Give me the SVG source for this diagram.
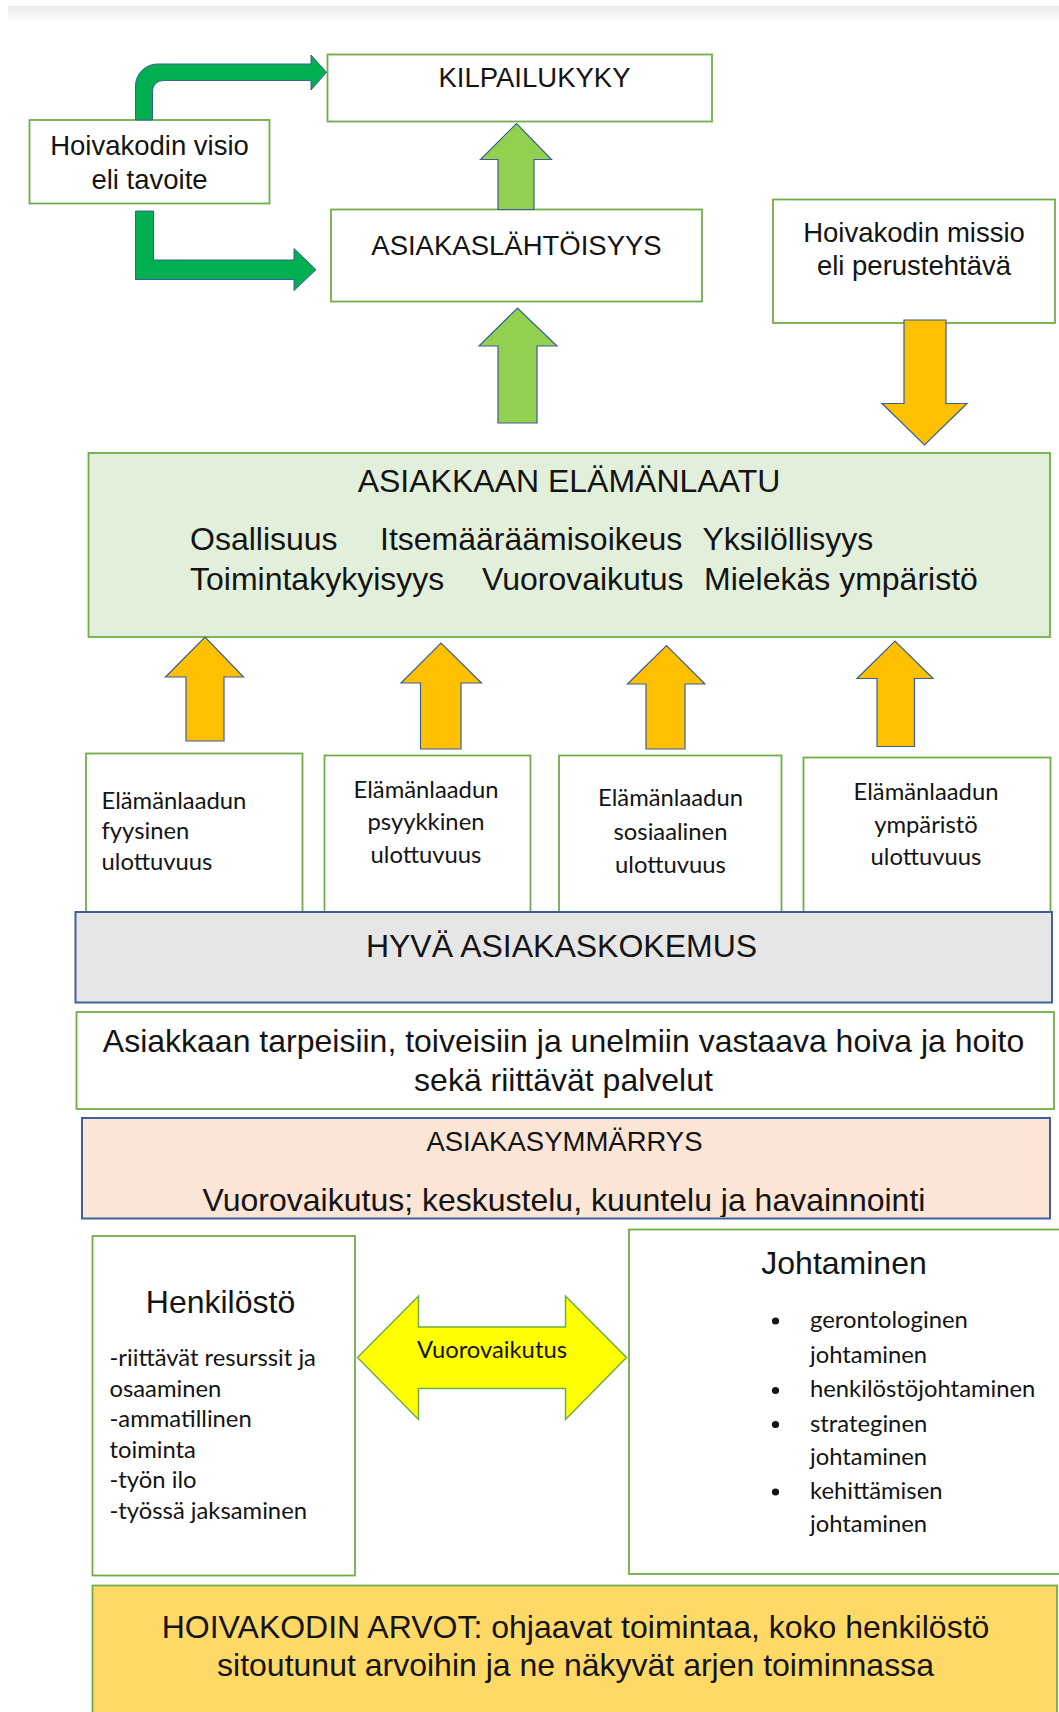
<svg xmlns="http://www.w3.org/2000/svg" width="1059" height="1712" viewBox="0 0 1059 1712">
<defs>
<linearGradient id="topband" x1="0" y1="0" x2="0" y2="1">
<stop offset="0" stop-color="#ebebeb"/>
<stop offset="1" stop-color="#fafafa"/>
</linearGradient>
<clipPath id="clipYm"><rect x="82" y="1118" width="968" height="99"/></clipPath>
<style>
.box{fill:#ffffff;stroke:#70ad47;stroke-width:1.8}
.boxg{fill:#e2efda;stroke:#70ad47;stroke-width:1.8}
.boxgray{fill:#e7e6e6;stroke:#3f5f9e;stroke-width:2}
.boxpeach{fill:#fbe5d6;stroke:#3f5f9e;stroke-width:2}
.boxgold{fill:#ffd966;stroke:#70ad47;stroke-width:1.8}
.ar{font-family:"Liberation Sans",Arial,sans-serif;fill:#141414}
.t32{font-size:32px}
.t27{font-size:27.5px}
.cal{font-family:Lato,"Carlito",sans-serif;font-size:23.8px;fill:#141414}
.mid{text-anchor:middle}
.dg{fill:#00b050;stroke:#3a5f95;stroke-width:1}
.lg{fill:#92d050;stroke:#3a5f95;stroke-width:1.2}
.or{fill:#ffc000;stroke:#3a5f95;stroke-width:1.2}
.yl{fill:#ffff00;stroke:#70ad47;stroke-width:1.5}
</style>
</defs>
<rect x="0" y="0" width="1059" height="1712" fill="#ffffff"/>
<rect x="8" y="6" width="1051" height="14" fill="url(#topband)"/>

<g id="kilpailukyky">
<rect class="box" x="327.5" y="54.5" width="384.5" height="67"/>
<text class="ar t27 mid" x="534.5" y="87">KILPAILUKYKY</text>
</g>
<g id="visio">
<rect class="box" x="29.5" y="120" width="240" height="83.5"/>
<text class="ar t27 mid" x="149.5" y="155">Hoivakodin visio</text>
<text class="ar t27 mid" x="149.5" y="189">eli tavoite</text>
</g>
<g id="asiakaslahtoisyys">
<rect class="box" x="331" y="209.5" width="371" height="92"/>
<text class="ar t27 mid" x="516.5" y="254.5">ASIAKASLÄHTÖISYYS</text>
</g>
<g id="missio">
<rect class="box" x="773" y="199.5" width="282" height="123.5"/>
<text class="ar t27 mid" x="914" y="242">Hoivakodin missio</text>
<text class="ar t27 mid" x="914" y="275">eli perustehtävä</text>
</g>
<g id="elamanlaatu">
<rect class="boxg" x="88.5" y="453" width="961.5" height="184"/>
<text class="ar t32 mid" x="569" y="492">ASIAKKAAN ELÄMÄNLAATU</text>
<text class="ar t32" x="190" y="549.5">Osallisuus</text>
<text class="ar t32" x="380" y="549.5">Itsemääräämisoikeus</text>
<text class="ar t32" x="702.5" y="549.5">Yksilöllisyys</text>
<text class="ar t32" x="190" y="590">Toimintakykyisyys</text>
<text class="ar t32" x="482" y="590">Vuorovaikutus</text>
<text class="ar t32" x="704" y="590">Mielekäs ympäristö</text>
</g>
<g id="fyysinen">
<rect class="box" x="86" y="753.5" width="216.5" height="160"/>
<text class="cal" x="101.5" y="808.5">Elämänlaadun</text>
<text class="cal" x="101.5" y="839">fyysinen</text>
<text class="cal" x="101.5" y="869.5">ulottuvuus</text>
</g>
<g id="psyykkinen">
<rect class="box" x="324.5" y="755.5" width="206" height="158"/>
<text class="cal mid" x="426" y="797.5">Elämänlaadun</text>
<text class="cal mid" x="426" y="830">psyykkinen</text>
<text class="cal mid" x="426" y="862.5">ulottuvuus</text>
</g>
<g id="sosiaalinen">
<rect class="box" x="559" y="755.5" width="222.5" height="158"/>
<text class="cal mid" x="670.5" y="806">Elämänlaadun</text>
<text class="cal mid" x="670.5" y="840">sosiaalinen</text>
<text class="cal mid" x="670.5" y="873">ulottuvuus</text>
</g>
<g id="ymparisto">
<rect class="box" x="803.5" y="757.5" width="247" height="156"/>
<text class="cal mid" x="926" y="800">Elämänlaadun</text>
<text class="cal mid" x="926" y="832.5">ympäristö</text>
<text class="cal mid" x="926" y="865">ulottuvuus</text>
</g>
<g id="asiakaskokemus">
<rect class="boxgray" x="75.5" y="912" width="976.5" height="90.5"/>
<text class="ar t32 mid" x="561.5" y="957">HYVÄ ASIAKASKOKEMUS</text>
</g>
<g id="tarpeet">
<rect class="box" x="76.5" y="1012" width="977.5" height="97"/>
<text class="ar t32 mid" x="563.5" y="1052">Asiakkaan tarpeisiin, toiveisiin ja unelmiin vastaava hoiva ja hoito</text>
<text class="ar t32 mid" x="563.5" y="1090.5">sekä riittävät palvelut</text>
</g>
<g id="asiakasymmarrys">
<rect class="boxpeach" x="82" y="1118" width="968" height="100.5"/>
<text class="ar t27 mid" x="564.5" y="1150.5">ASIAKASYMMÄRRYS</text>
<text class="ar t32 mid" x="564" y="1211" clip-path="url(#clipYm)">Vuorovaikutus; keskustelu, kuuntelu ja havainnointi</text>
</g>
<g id="henkilosto">
<rect class="box" x="92.5" y="1236" width="262.5" height="339.5"/>
<text class="ar t32 mid" x="220.5" y="1313">Henkilöstö</text>
<text class="cal" x="109.5" y="1366">-riittävät resurssit ja</text>
<text class="cal" x="109.5" y="1396.5">osaaminen</text>
<text class="cal" x="109.5" y="1427">-ammatillinen</text>
<text class="cal" x="109.5" y="1457.5">toiminta</text>
<text class="cal" x="109.5" y="1488">-työn ilo</text>
<text class="cal" x="109.5" y="1518.5">-työssä jaksaminen</text>
</g>
<g id="johtaminen">
<rect class="box" x="629" y="1229.5" width="440" height="344.5"/>
<text class="ar t32 mid" x="844" y="1274">Johtaminen</text>
<circle cx="775.5" cy="1321" r="3.6" fill="#141414"/>
<circle cx="775.5" cy="1390.5" r="3.6" fill="#141414"/>
<circle cx="775.5" cy="1424.5" r="3.6" fill="#141414"/>
<circle cx="775.5" cy="1492" r="3.6" fill="#141414"/>
<text class="cal" x="810" y="1328">gerontologinen</text>
<text class="cal" x="810" y="1362.5">johtaminen</text>
<text class="cal" x="810" y="1397">henkilöstöjohtaminen</text>
<text class="cal" x="810" y="1431.5">strateginen</text>
<text class="cal" x="810" y="1465">johtaminen</text>
<text class="cal" x="810" y="1499">kehittämisen</text>
<text class="cal" x="810" y="1532">johtaminen</text>
</g>
<g id="arvot">
<rect class="boxgold" x="92.5" y="1585.5" width="964.5" height="140"/>
<text class="ar t32 mid" x="575.5" y="1637.5">HOIVAKODIN ARVOT: ohjaavat toimintaa, koko henkilöstö</text>
<text class="ar t32 mid" x="575.5" y="1676">sitoutunut arvoihin ja ne näkyvät arjen toiminnassa</text>
</g>

<g id="connectors">
<path class="dg" d="M135.5 120 L135.5 86 A22 22 0 0 1 157.5 64 L311 64 L311 55 L326.5 72.3 L311 90 L311 80.5 L163 80.5 A10.5 10.5 0 0 0 152.5 91 L152.5 120 Z"/>
<path class="dg" d="M135.5 211 L153.5 211 L153.5 260 L294 260 L294 248.5 L316 269.7 L294 290.5 L294 279.5 L135.5 279.5 Z"/>
<path class="lg" d="M498 209.5 L498 159.5 L480.5 159.5 L516.5 123.5 L551.5 159.5 L534 159.5 L534 209.5 Z"/>
<path class="lg" d="M498 423 L498 346 L479 346 L517.5 308 L557 346 L537 346 L537 423 Z"/>
<path class="or" d="M904 320 L946 320 L946 403.5 L967 403.5 L924.5 445 L882 403.5 L904 403.5 Z"/>
<path class="or" d="M186 741 L186 677 L165.5 677 L205 637 L243.5 677 L224 677 L224 741 Z"/>
<path class="or" d="M420.5 749 L420.5 683 L401 683 L441 643 L481.5 683 L461 683 L461 749 Z"/>
<path class="or" d="M646 749 L646 684 L627.5 684 L666.5 645.5 L705 684 L685 684 L685 749 Z"/>
<path class="or" d="M877 746.5 L877 678.5 L857 678.5 L895 641 L933 678.5 L914.5 678.5 L914.5 746.5 Z"/>
<g id="vuorovaikutus-arrow">
<path class="yl" d="M357.5 1357.5 L418.5 1296 L418.5 1327 L565.5 1327 L565.5 1296 L626.5 1357.5 L565.5 1419.5 L565.5 1388.5 L418.5 1388.5 L418.5 1419.5 Z"/>
<text class="cal mid" x="492" y="1358">Vuorovaikutus</text>
</g>
</g>
</svg>
